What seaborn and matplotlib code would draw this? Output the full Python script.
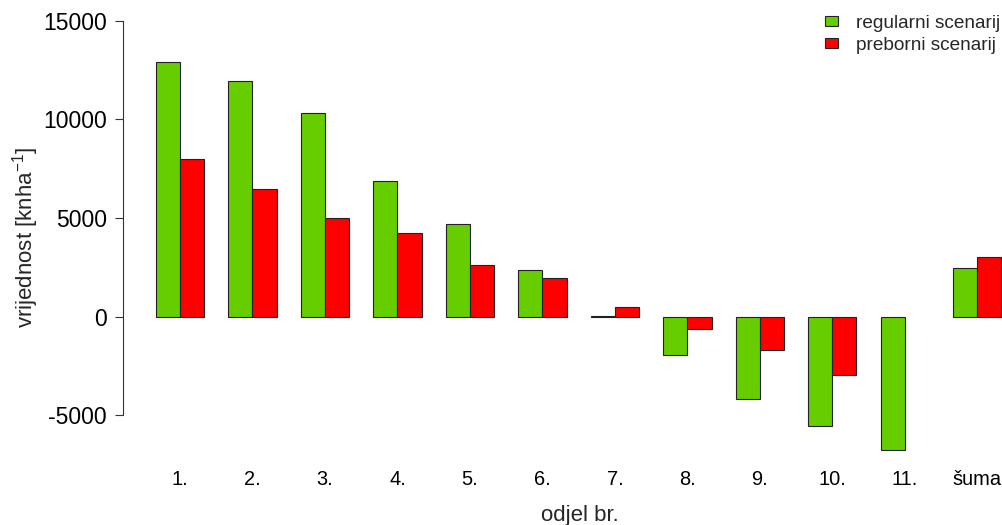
import numpy as np
import pandas as pd
import matplotlib
matplotlib.use("Agg")
import matplotlib.pyplot as plt
import seaborn as sns
from matplotlib.patches import Patch

categories = ["1.", "2.", "3.", "4.", "5.", "6.", "7.", "8.", "9.", "10.", "11.", "šuma"]
regularni = [12920, 11950, 10300, 6890, 4710, 2350, 60, -1950, -4170, -5550, -6760, 2450]
preborni = [7980, 6490, 5000, 4240, 2620, 1980, 480, -630, -1700, -2950, np.nan, 3040]
series_names = ["regularni scenarij", "preborni scenarij"]
series_colors = ["#66CD00", "#FF0000"]
y_ticks = [-5000, 0, 5000, 10000, 15000]

sns.set_style("white")
plt.rcParams["font.family"] = ["Liberation Sans", "DejaVu Sans"]
plt.rcParams["mathtext.fontset"] = "custom"
plt.rcParams["mathtext.rm"] = "Liberation Sans"
plt.rcParams["mathtext.it"] = "Liberation Sans:italic"
plt.rcParams["mathtext.bf"] = "Liberation Sans:bold"

df = pd.DataFrame({
    "odjel": categories * 2,
    "scenarij": [series_names[0]] * len(categories) + [series_names[1]] * len(categories),
    "vrijednost": regularni + preborni,
})

fig = plt.figure(figsize=(10.03, 5.25), dpi=100)
W, H = 1003, 525
left_px, right_px = 122.7, 1003
top_px, bot_px = 3.4, 472.2
ax = fig.add_axes([left_px / W, 1 - bot_px / H, (right_px - left_px) / W, (bot_px - top_px) / H])

sns.barplot(data=df, x="odjel", y="vrijednost", hue="scenarij", order=categories,
            hue_order=series_names, palette=series_colors, width=2/3, dodge=True,
            errorbar=None, edgecolor="#222222", linewidth=0.8, saturation=1,
            legend=False, ax=ax)
for p in ax.patches:
    p.set_clip_on(False)

unit = 72.48
ax.set_xlim(-(180 - left_px) / unit, (right_px - 180) / unit)
ax.set_ylim(-7880, 15880)

for s in ["top", "right", "bottom"]:
    ax.spines[s].set_visible(False)
ax.spines["left"].set_bounds(-5000, 15000)
ax.spines["left"].set_color("#333333")
ax.spines["left"].set_linewidth(0.8)

ax.set_yticks(y_ticks)
ax.set_yticklabels([str(v) for v in y_ticks])
ax.tick_params(axis="y", direction="out", length=5.5, width=0.8, color="#333333",
               pad=6, labelsize=16.5, labelcolor="black", left=True)
ax.tick_params(axis="x", length=0, pad=-1.6, labelsize=14.4, labelcolor="black")

ax.set_xlabel("odjel br.", fontsize=16)
ax.xaxis.set_label_coords((579.5 - left_px) / (right_px - left_px), -(505 - bot_px) / (bot_px - top_px))
ax.xaxis.label.set_va("top")
ax.set_ylabel(r"vrijednost [knha$^{-1}$]", fontsize=16)
ax.yaxis.set_label_coords(-(122.7 - 41) / (right_px - left_px), 0.5)

handles = [Patch(facecolor=c, edgecolor="#222222", linewidth=0.8) for c in series_colors]
fig.legend(handles, series_names, loc="upper left", bbox_to_anchor=(825 / W, 1 - 15 / H),
           frameon=False, fontsize=13.7, handlelength=0.68, handleheight=0.45,
           handletextpad=0.95, labelspacing=0.25, borderpad=0, borderaxespad=0)

fig.savefig("out.png", dpi=100)
